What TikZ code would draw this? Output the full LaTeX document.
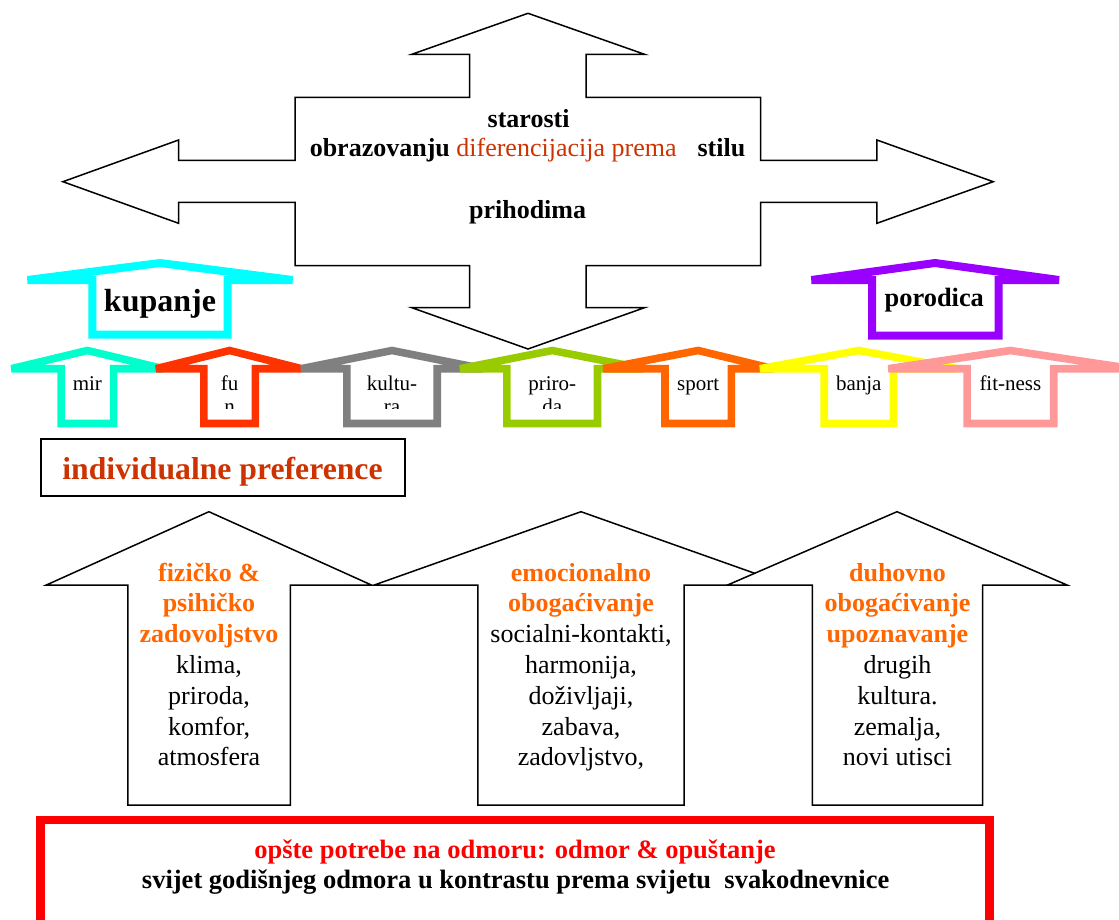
\documentclass[tikz,border=0pt]{standalone}
\usepackage{fontspec}
\setmainfont{Liberation Serif}
\definecolor{cMir}{HTML}{00FFCC}
\definecolor{cFun}{HTML}{FF3300}
\definecolor{cKult}{HTML}{808080}
\definecolor{cPrir}{HTML}{99CC00}
\definecolor{cSport}{HTML}{FF6600}
\definecolor{cBanja}{HTML}{FFFF00}
\definecolor{cFit}{HTML}{FF9999}
\definecolor{cKup}{HTML}{00FFFF}
\definecolor{cPor}{HTML}{9900FF}
\definecolor{cOrange}{HTML}{FF6600}
\definecolor{cRust}{HTML}{CC3300}
\definecolor{cRed}{HTML}{FF0000}
% small coloured arrow: colour, centre x, left half-width, right half-width, shaft half-width
\newcommand{\roofarrow}[5]{%
  \draw[roof, draw=#1] ({#2-#3},368.7) -- (#2,350.5) -- ({#2+#4},368.7)
    -- ({#2+#5},368.7) -- ({#2+#5},423.5) -- ({#2-#5},423.5) -- ({#2-#5},368.7) -- cycle;}
\newcommand{\hl}[1]{\textcolor{cOrange}{\bfseries #1}}
\begin{document}
\begin{tikzpicture}[x=1pt,y=-1pt,
  outline/.style={draw=black, line width=1.5pt, fill=white, line join=miter},
  roof/.style={line width=7.6pt, line join=miter, miter limit=4},
  toptext/.style={anchor=base, inner sep=0pt, font=\fontsize{26}{30}\selectfont\bfseries},
  tagtext/.style={anchor=base, inner sep=0pt, font=\fontsize{21}{23.5}\selectfont},
  bigtext/.style={anchor=base, inner sep=0pt, font=\fontsize{26}{30.8}\selectfont},
]
\clip (0,0) rectangle (1119,920);

% four-way arrow
\draw[outline] (528,13.3) -- (644.5,54.3) -- (586,54.3) -- (586,97.3) -- (760.7,97.3)
  -- (760.7,160.3) -- (876.9,160.3) -- (876.9,140) -- (993.2,181.7) -- (876.9,223.3)
  -- (876.9,202.3) -- (760.7,202.3) -- (760.7,265.7) -- (586,265.7) -- (586,307.7)
  -- (644.5,307.7) -- (528,349) -- (411.8,307.7) -- (469.6,307.7) -- (469.6,265.7)
  -- (295,265.7) -- (295,202.3) -- (178.6,202.3) -- (178.6,223.3) -- (62.9,181.7)
  -- (178.6,140) -- (178.6,160.3) -- (295,160.3) -- (295,97.3) -- (469.6,97.3)
  -- (469.6,54.3) -- (411.8,54.3) -- cycle;
\node[toptext] (starosti) at (528.6,127.3) {starosti};
\node[toptext] (kriteriji) at (527.5,156.7)
  {obrazovanju {\mdseries\color{cRust}diferencijacija prema}\hspace{21pt}stilu};
\node[toptext] (prihodima) at (527.6,218.3) {prihodima};

% large coloured arrows
\draw[roof, line width=8pt, draw=cKup] (27.5,280) -- (160,263) -- (292.5,280) -- (227.7,280)
  -- (227.7,334.7) -- (92.3,334.7) -- (92.3,280) -- cycle;
\node[anchor=base, inner sep=0pt, font=\fontsize{32}{36}\selectfont\bfseries] (kupanje) at (160,311.7) {kupanje};
\draw[roof, line width=8pt, draw=cPor] (811.5,280) -- (935,263) -- (1059,280) -- (998.5,280)
  -- (998.5,335.5) -- (872,335.5) -- (872,280) -- cycle;
\node[anchor=base, inner sep=0pt, font=\fontsize{26.4}{30}\selectfont\bfseries] (porodica) at (934.3,306.7) {porodica};

% row of small arrows
\roofarrow{cMir}{87.4}{76}{76}{26.2}
\roofarrow{cFun}{229.6}{73.6}{72}{25.7}
\roofarrow{cKult}{392}{91}{91}{45.2}
\roofarrow{cPrir}{552.2}{92.2}{92}{45.3}
\roofarrow{cSport}{698.2}{94.9}{75}{33.2}
\roofarrow{cBanja}{858.8}{98.8}{99}{34.6}
\roofarrow{cFit}{1010.4}{122.1}{122}{43.3}
\begin{scope}
  \clip (0,340) rectangle (1119,408.5);
  \node[tagtext] (mir) at (87.4,390) {mir};
  \node[tagtext] (fun) at (229.6,390) {\begin{tabular}[t]{@{}c@{}}fu\\n\end{tabular}};
  \node[tagtext] (kultura) at (392,390) {\begin{tabular}[t]{@{}c@{}}kultu-\\ra\end{tabular}};
  \node[tagtext] (priroda) at (552.2,390) {\begin{tabular}[t]{@{}c@{}}priro-\\da\end{tabular}};
  \node[tagtext] (sport) at (698.2,390) {sport};
  \node[tagtext] (banja) at (858.8,390) {banja};
  \node[tagtext] (fitness) at (1010.4,390) {fit-ness};
\end{scope}

% individual preferences
\node[draw=black, line width=2pt, minimum width=364pt, minimum height=57pt, inner sep=0pt]
  (prefbox) at (222.8,467.6) {};
\node[anchor=base, inner sep=0pt, text=cRust, font=\fontsize{31.7}{36}\selectfont\bfseries]
  (pref) at (222.5,479.3) {individualne preference};

% three need arrows
\draw[outline] (46.4,585) -- (208.9,511.7) -- (371.4,585) -- (290.4,585) -- (290.4,805)
  -- (127.9,805) -- (127.9,585) -- cycle;
\draw[outline] (374.3,585) -- (581,511.7) -- (787.7,585) -- (684.1,585) -- (684.1,805)
  -- (477.9,805) -- (477.9,585) -- cycle;
\draw[outline] (727.6,585) -- (897,511.7) -- (1067,585) -- (982.5,585) -- (982.5,805)
  -- (812.4,805) -- (812.4,585) -- cycle;
\node[bigtext] (fizicko) at (209,581) {\begin{tabular}[t]{@{}c@{}}\hl{fizičko \&}\\ \hl{psihičko}\\
  \hl{zadovoljstvo}\\ klima,\\ priroda,\\ komfor,\\ atmosfera\end{tabular}};
\node[bigtext] (emocionalno) at (581,581) {\begin{tabular}[t]{@{}c@{}}\hl{emocionalno}\\ \hl{obogaćivanje}\\
  socialni-kontakti,\\ harmonija,\\ doživljaji,\\ zabava,\\ zadovljstvo,\end{tabular}};
\node[bigtext] (duhovno) at (897.5,581) {\begin{tabular}[t]{@{}c@{}}\hl{duhovno}\\ \hl{obogaćivanje}\\
  \hl{upoznavanje}\\ drugih\\ kultura.\\ zemalja,\\ novi utisci\end{tabular}};

% general needs
\node[draw=cRed, line width=8.5pt, minimum width=948.6pt, minimum height=140pt, inner sep=0pt]
  (needsbox) at (515,890) {};
\node[anchor=base, inner sep=0pt, text=cRed, font=\fontsize{26.5}{30}\selectfont\bfseries]
  (needs1) at (515,858) {opšte potrebe na odmoru: odmor \& opuštanje};
\node[anchor=base, inner sep=0pt, font=\fontsize{26.5}{30}\selectfont\bfseries]
  (needs2) at (515.7,888.3) {svijet godišnjeg odmora u kontrastu prema svijetu\ \ svakodnevnice};
\end{tikzpicture}
\end{document}
